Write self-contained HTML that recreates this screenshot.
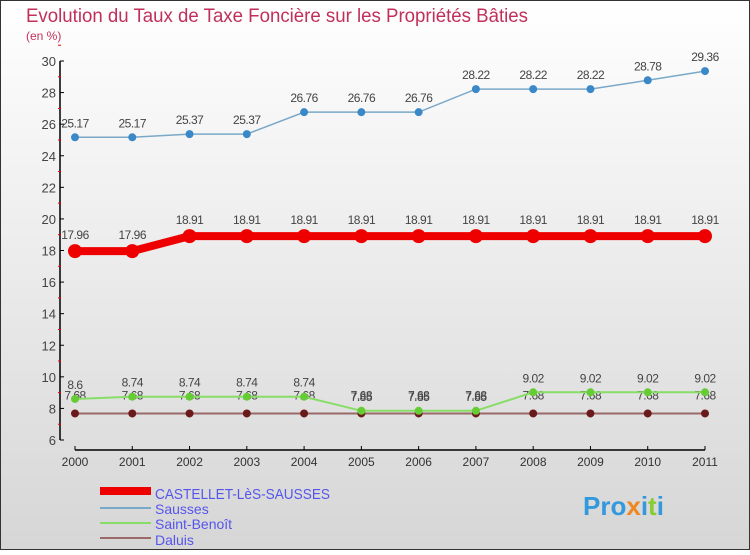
<!DOCTYPE html>
<html><head><meta charset="utf-8"><style>
body{margin:0}
svg text{font-family:"Liberation Sans",sans-serif}
</style></head><body>
<svg id="c" width="750" height="550" xmlns="http://www.w3.org/2000/svg">
<defs><linearGradient id="bg" x1="0" y1="0" x2="0" y2="1"><stop offset="0" stop-color="#ffffff"/><stop offset="1" stop-color="#d6d6d6"/></linearGradient></defs>
<rect x="0.5" y="0.5" width="749" height="549" fill="url(#bg)" stroke="#333"/>
<text x="26" y="22" font-size="19" fill="#c0305a" textLength="502" lengthAdjust="spacingAndGlyphs">Evolution du Taux de Taxe Foncière sur les Propriétés Bâties</text>
<text x="26" y="40" font-size="12" fill="#c0305a">(en %)</text>
<g id="axes"></g>
<g id="series"></g>
<g>
<rect x="100" y="487" width="51" height="8" fill="#e00"/>
<text x="155" y="499" font-size="15" fill="#5555ee" textLength="175" lengthAdjust="spacingAndGlyphs">CASTELLET-LèS-SAUSSES</text>
<rect x="100" y="507" width="51" height="2" fill="#7aa8c8"/>
<text x="155" y="514" font-size="14" fill="#5555ee">Sausses</text>
<rect x="100" y="522" width="51" height="2" fill="#88dd66"/>
<text x="155" y="529" font-size="14" fill="#5555ee">Saint-Benoît</text>
<rect x="100" y="537" width="51" height="2" fill="#9a6a6a"/>
<text x="155" y="545" font-size="14" fill="#5555ee">Daluis</text>
</g>
<text x="583" y="515" font-size="26" font-weight="bold" fill="#3399dd">Pro<tspan fill="#ee8822">x</tspan>i<tspan fill="#88cc33">t</tspan>i</text>
</svg>
<script>
const years=[2000,2001,2002,2003,2004,2005,2006,2007,2008,2009,2010,2011];
const castellet=[17.96,17.96,18.91,18.91,18.91,18.91,18.91,18.91,18.91,18.91,18.91,18.91];
const sausses=[25.17,25.17,25.37,25.37,26.76,26.76,26.76,28.22,28.22,28.22,28.78,29.36];
const saintBenoit=[8.6,8.74,8.74,8.74,8.74,7.85,7.85,7.85,9.02,9.02,9.02,9.02];
const daluis=[7.68,7.68,7.68,7.68,7.68,7.68,7.68,7.68,7.68,7.68,7.68,7.68];
const yTicks=[6,8,10,12,14,16,18,20,22,24,26,28,30];
const NS='http://www.w3.org/2000/svg';
const X=i=>75+i*(630/(years.length-1));
const Y=v=>440-(v-6)*(379/24);
function mk(t,a,p){const e=document.createElementNS(NS,t);for(const k in a)e.setAttribute(k,a[k]);p.appendChild(e);return e;}
const ax=document.getElementById('axes');
let yl=mk('line',{x1:60,y1:61,x2:60,y2:440,stroke:'#000','stroke-width':1.5},ax);


yTicks.forEach(v=>{
 mk('line',{x1:60,y1:Y(v),x2:64,y2:Y(v),stroke:'#000'},ax);
 mk('line',{x1:58,y1:Y(v+1),x2:61,y2:Y(v+1),stroke:'#e00'},ax);
 const t=mk('text',{x:56,y:Y(v)+5,'font-size':13,'text-anchor':'end',fill:'#444'},ax);t.textContent=v;
 
 
});
let xl=mk('line',{x1:75,y1:450,x2:705,y2:450,stroke:'#000','stroke-width':1.5},ax);


years.forEach((y,i)=>{
 mk('line',{x1:X(i),y1:446,x2:X(i),y2:450,stroke:'#000'},ax);
 const t=mk('text',{x:X(i),y:466,'font-size':12,'text-anchor':'middle',fill:'#333'},ax);t.textContent=y;
 
 
});
const sg=document.getElementById('series');
function series(name,data,color,w,r,dot,ldy){
 const g=mk('g',{},sg);
 
 
 const p=mk('polyline',{points:data.map((v,i)=>X(i)+','+Y(v)).join(' '),fill:'none',stroke:color,'stroke-width':w},g);
 
 
 data.forEach((v,i)=>{
  const c=mk('circle',{cx:X(i),cy:Y(v),r:r,fill:dot},g);
  
  
  const t=mk('text',{x:X(i),y:Y(v)+ldy,'font-size':12,'text-anchor':'middle',fill:'#444','letter-spacing':'-0.5'},g);t.textContent=v;
  
  
 });
}
series('daluis',daluis,'#9a6a6a',2,4,'#6a1a1a',-14);
series('saint-benoit',saintBenoit,'#88dd66',2,4,'#66cc33',-10);
series('sausses',sausses,'#7aa8c8',1.5,4,'#3a88c8',-10);
series('castellet',castellet,'#ee0000',8,7,'#ee0000',-12);
</script>
</body></html>
